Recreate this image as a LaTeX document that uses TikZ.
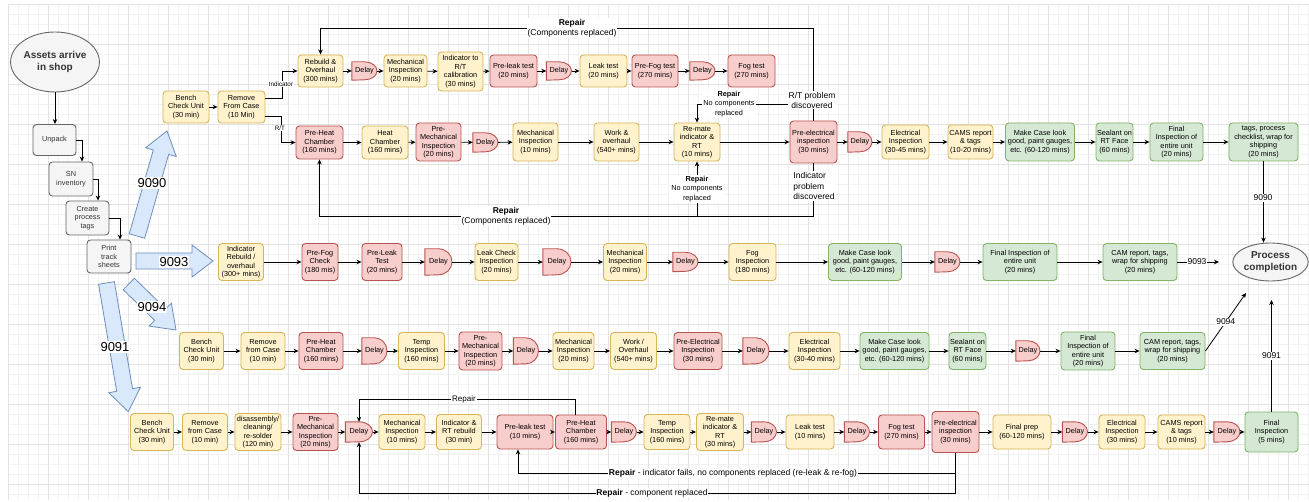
\documentclass[tikz,border=0pt]{standalone}
\usepackage{fontspec}
\setmainfont{Liberation Sans}
\usetikzlibrary{arrows.meta,calc,shapes.geometric}
\definecolor{yF}{HTML}{FFF2CC}\definecolor{yD}{HTML}{D6B656}
\definecolor{rF}{HTML}{F8CECC}\definecolor{rD}{HTML}{B85450}
\definecolor{gF}{HTML}{D5E8D4}\definecolor{gD}{HTML}{82B366}
\definecolor{kF}{HTML}{F5F5F5}\definecolor{kD}{HTML}{666666}\definecolor{kT}{HTML}{333333}
\definecolor{bF}{HTML}{DAE8FC}\definecolor{bD}{HTML}{6C8EBF}
\definecolor{gridm}{HTML}{F2F2F2}\definecolor{gridM}{HTML}{E3E3E3}
\newcommand{\fs}{\fontsize{7.3}{8.5}\selectfont}
\newcommand{\fl}{\fontsize{8.5}{10}\selectfont}
\tikzset{
  box/.style={rectangle, rounded corners=3.5pt, line width=0.9pt, align=center, inner sep=0pt, font=\fs},
  ybox/.style={box, fill=yF, draw=yD},
  rbox/.style={box, fill=rF, draw=rD},
  gbox/.style={box, fill=gF, draw=gD},
  kbox/.style={box, fill=kF, draw=kD, text=kT},
  arr/.style={line width=0.8pt, -{Stealth[length=5pt,width=4.5pt]}},
  lab/.style={fill=white, inner sep=1pt, align=center, font=\fl},
  slab/.style={fill=white, inner sep=1pt, align=center, font=\fontsize{7.3}{9.8}\selectfont},
  bluearrow/.style={fill=bF, draw=bD, line width=0.8pt, line join=miter},
  big/.style={fill=white, inner sep=1pt, font=\fontsize{13}{15}\selectfont},
}
\newcommand{\bx}[7]{\node[#1, minimum width=#5pt, minimum height=#6pt] (#2) at (#3,#4) {#7};}
\newcommand{\dly}[5]{\node[minimum width=#4pt, minimum height=#5pt, inner sep=0pt] (#1) at (#2,#3) {};
  \draw[fill=rF, draw=rD, line width=0.9pt] (#1.north west) -- (#1.north) arc[start angle=90, end angle=-90, x radius=#4*0.5pt, y radius=#5*0.5pt] -- (#1.south west) -- cycle;
  \node[font=\fs] at (#1.center) {Delay};}
\begin{document}
\begin{tikzpicture}[x=1pt,y=-1pt]
\useasboundingbox (0,0) rectangle (1309,502);
\fill[white] (0,0) rectangle (1309,502);
% grid
\foreach \g in {8,18,...,1308} \draw[gridm, line width=0.5pt] (\g,4) -- (\g,500);
\foreach \g in {4,14,...,500} \draw[gridm, line width=0.5pt] (8,\g) -- (1309,\g);
\foreach \g in {8,48,...,1308} \draw[gridM, line width=0.5pt] (\g,4) -- (\g,500);
\foreach \g in {4,44,...,500} \draw[gridM, line width=0.5pt] (8,\g) -- (1309,\g);

% start column
\node[ellipse, draw=kD, fill=kF, line width=0.9pt, minimum width=80pt, minimum height=60pt, inner sep=0pt, align=center, text=kT, font=\bfseries\fontsize{10}{12.5}\selectfont] (AS) at (55,62) {Assets arrive\\in shop};
\bx{kbox}{UP}{54.5}{140}{43}{31}{Unpack}
\bx{kbox}{SN}{71}{179}{44}{34}{SN\\inventory}
\bx{kbox}{CP}{87.5}{218}{43}{34}{Create\\process\\tags}
\bx{kbox}{PT}{109}{256.5}{44}{33}{Print\\track\\sheets}
\draw[arr] (AS.south) -- (AS.south |- UP.north);
\draw[arr] (UP.east) -| ($(SN.north)+(11,0)$);
\draw[arr] (SN.east) -| ($(CP.north)+(10.5,0)$);
\draw[arr] (CP.east) -| ($(PT.north)+(11,0)$);

% blue arrows
\draw[bluearrow] (129.3,233.8) -- (153.3,149.95) -- (145.6,147.75) -- (167,131) -- (176.3,156.55) -- (168.65,154.35) -- (144.7,238.2) -- cycle;
\node[big] (L90) at (152,183) {9090};
\draw[bluearrow] (136,253) -- (192,253) -- (192,245) -- (213,261) -- (192,277) -- (192,269) -- (136,269) -- cycle;
\node[big] (L93) at (174,262) {9093};
\draw[bluearrow] (123.2,289.7) -- (154.7,320.4) -- (149.1,326.1) -- (176,330) -- (171.4,303.2) -- (165.8,308.9) -- (134.4,278.3) -- cycle;
\node[big] (L94) at (152,307) {9094};
\draw[bluearrow] (98.6,284.3) -- (116.7,391.3) -- (108.8,392.7) -- (128.3,411.7) -- (140.4,387.3) -- (132.5,388.7) -- (114.4,281.7) -- cycle;
\node[big] (L91) at (115,347) {9091};

% ===== 9090 =====
\bx{ybox}{BC}{186}{107}{46}{32}{Bench\\Check Unit\\(30 min)}
\bx{ybox}{RC}{241.5}{107}{47}{32}{Remove\\From Case\\(10 Min)}
\draw[arr] (BC) -- (RC);
% row 1
\bx{ybox}{T1}{320.5}{71}{45}{32}{Rebuild \&\\Overhaul\\(300 mins)}
\dly{T2}{364.5}{71}{25}{18}
\bx{ybox}{T3}{405.5}{71}{43}{32}{Mechanical\\Inspection\\(20 mins)}
\bx{ybox}{T4}{460.5}{71.5}{45}{39}{Indicator to\\R/T\\calibration\\(30 mins)}
\bx{rbox}{T5}{513.5}{71}{47}{32}{Pre-leak test\\(20 mins)}
\dly{T6}{559}{71}{25}{18}
\bx{ybox}{T7}{603.5}{71}{47}{32}{Leak test\\(20 mins)}
\bx{rbox}{T8}{655}{71}{46}{32}{Pre-Fog test\\(270 mins)}
\dly{T9}{702.5}{71}{25}{18}
\bx{rbox}{T10}{751.5}{71}{47}{32}{Fog test\\(270 mins)}
\foreach \a/\b in {T1/T2,T2/T3,T3/T4,T4/T5,T5/T6,T6/T7,T7/T8,T8/T9,T9/T10} \draw[arr] (\a) -- (\b);
% row 2
\bx{rbox}{R1}{319.5}{142.5}{47}{33}{Pre-Heat\\Chamber\\(160 mins)}
\bx{ybox}{R2}{385}{142.5}{46}{33}{Heat\\Chamber\\(160 mins)}
\bx{rbox}{R3}{438.5}{142}{45}{38}{Pre-\\Mechanical\\Inspection\\(20 mins)}
\dly{R4}{485.5}{142.5}{25}{19}
\bx{ybox}{R5}{535.5}{142}{45}{38}{Mechanical\\Inspection\\(10 mins)}
\bx{ybox}{R6}{616.5}{142}{45}{38}{Work \&\\overhaul\\(540+ mins)}
\bx{ybox}{R7}{697}{142}{46}{38}{Re-mate\\indicator \&\\RT\\(10 mins)}
\bx{rbox}{R8}{813.5}{142}{47}{42}{Pre-electrical\\inspection\\(30 mins)}
\dly{R9}{860}{142}{24}{20}
\bx{ybox}{R10}{905.5}{142}{47}{34}{Electrical\\Inspection\\(30-45 mins)}
\bx{ybox}{R11}{970.5}{142}{45}{34}{CAMS report\\\& tags\\(10-20 mins)}
\bx{gbox}{R12}{1040}{142}{69}{38}{Make Case look\\good, paint gauges,\\etc. (60-120 mins)}
\bx{gbox}{R13}{1114.5}{142}{37}{38}{Sealant on\\RT Face\\(60 mins)}
\bx{gbox}{R14}{1176.5}{142}{53}{38}{Final\\Inspection of\\entire unit\\(20 mins)}
\bx{gbox}{R15}{1263.5}{142}{69}{38}{tags, process\\checklist, wrap for\\shipping\\(20 mins)}
\foreach \a/\b in {R1/R2,R2/R3,R3/R4,R4/R5,R5/R6,R6/R7,R7/R8,R8/R9,R9/R10,R10/R11,R11/R12,R12/R13,R13/R14,R14/R15} \draw[arr] (\a) -- (\b);
% branches from Remove from case
\draw[arr] (RC.east |- 0,98) -- (282,98) |- (T1.west);
\node[fill=white, inner sep=0.5pt, font=\fontsize{6.3}{7}\selectfont] at (281,84) {Indicator};
\draw[arr] (RC.east |- 0,116) -- (281,116) |- (R1.west);
\node[fill=white, inner sep=0.5pt, font=\fontsize{6.3}{7}\selectfont] at (280,128) {R/T};
% loops
\draw[arr] (R8.north) -- (R8.north |- 0,28) -| (T1.north);
\node[lab] at (572,28) {\textbf{Repair}\\(Components replaced)};
\draw[arr] (R8.north) -- (R8.north |- 0,104) -| (R7.north);
\node[slab] at (729,104) {\textbf{Repair}\\No components\\replaced};
\node[lab] at (812,100) {R/T problem\\discovered};
\draw[arr] (R8.south) -- (R8.south |- 0,216) -| (R1.south);
\draw[arr] (R7.south |- 0,216) -- (R7.south);
\node[lab, align=left, font=\fontsize{8.5}{10.5}\selectfont] at (814,186) {Indicator\\problem\\discovered};
\node[lab] at (506,216) {\textbf{Repair}\\(Components replaced)};
\node[slab] at (697,189) {\textbf{Repair}\\No components\\replaced};

% ===== completion =====
\node[ellipse, draw=kD, fill=kF, line width=0.9pt, minimum width=75pt, minimum height=38pt, inner sep=0pt, align=center, text=kT, font=\bfseries\fontsize{10}{12}\selectfont] (PC) at (1270.5,262) {Process\\completion};
\draw[arr] (R15.south) -- (R15.south |- PC.north);
\node[lab] at (1263,198) {9090};

% ===== 9093 =====
\bx{ybox}{A1}{241}{262}{45}{37}{Indicator\\Rebuild /\\overhaul\\(300+ mins)}
\bx{rbox}{A2}{320}{262}{36}{37}{Pre-Fog\\Check\\(180 mis)}
\bx{rbox}{A3}{382}{262}{40}{37}{Pre-Leak\\Test\\(20 mins)}
\dly{A4}{438.5}{262}{27}{26}
\bx{ybox}{A5}{496.5}{262}{43}{37}{Leak Check\\Inspection\\(20 mins)}
\dly{A6}{557}{262}{28}{26}
\bx{ybox}{A7}{625}{262}{43}{37}{Mechanical\\Inspection\\(20 mins)}
\dly{A8}{685.5}{262}{25}{19}
\bx{ybox}{A9}{752.5}{262}{47}{37}{Fog\\Inspection\\(180 mins)}
\bx{gbox}{A10}{865}{262}{73}{37}{Make Case look\\good, paint gauges,\\etc. (60-120 mins)}
\dly{A11}{947.5}{262}{25}{20}
\bx{gbox}{A12}{1020}{262}{74}{37}{Final Inspection of\\entire unit\\(20 mins)}
\bx{gbox}{A13}{1140}{262}{74}{37}{CAM report, tags,\\wrap for shipping\\(20 mins)}
\foreach \a/\b in {A1/A2,A2/A3,A3/A4,A4/A5,A5/A6,A6/A7,A7/A8,A8/A9,A9/A10,A10/A11,A11/A12,A12/A13} \draw[arr] (\a) -- (\b);
\coordinate (e93) at (1219,262);
\draw[arr] (A13.east) -- (e93);
\node[fill=white, inner sep=0.8pt, font=\fl] at (1197,262) {9093};

% ===== 9094 =====
\bx{ybox}{B1}{201.5}{351}{44}{37}{Bench\\Check Unit\\(30 min)}
\bx{ybox}{B2}{263}{351}{44}{37}{Remove\\from Case\\(10 min)}
\bx{rbox}{B3}{321}{351}{44}{37}{Pre-Heat\\Chamber\\(160 mins)}
\dly{B4}{374.5}{351}{25}{26}
\bx{ybox}{B5}{421.5}{351}{46}{37}{Temp\\Inspection\\(160 mins)}
\bx{rbox}{B6}{480.5}{351}{43}{38}{Pre-\\Mechanical\\Inspection\\(20 mins)}
\dly{B7}{526}{351}{25}{26}
\bx{ybox}{B8}{573.5}{351}{41}{37}{Mechanical\\Inspection\\(20 mins)}
\bx{ybox}{B9}{633.5}{351}{46}{37}{Work /\\Overhaul\\(540+ mins)}
\bx{rbox}{B10}{698}{351}{48}{37}{Pre-Electrical\\Inspection\\(30 mins)}
\dly{B11}{756}{351}{26}{26}
\bx{ybox}{B12}{814.5}{351}{51}{37}{Electrical\\Inspection\\(30-40 mins)}
\bx{gbox}{B13}{894.5}{351}{69}{37}{Make Case look\\good, paint gauges,\\etc. (60-120 mins)}
\bx{gbox}{B14}{967.5}{351}{37}{37}{Sealant on\\RT Face\\(60 mins)}
\dly{B15}{1028}{351}{24}{20}
\bx{gbox}{B16}{1088}{351}{54}{38}{Final\\Inspection of\\entire unit\\(20 mins)}
\bx{gbox}{B17}{1172.5}{351}{65}{37}{CAM report, tags,\\wrap for shipping\\(20 mins)}
\foreach \a/\b in {B1/B2,B2/B3,B3/B4,B4/B5,B5/B6,B6/B7,B7/B8,B8/B9,B9/B10,B10/B11,B11/B12,B12/B13,B13/B14,B14/B15,B15/B16,B16/B17} \draw[arr] (\a) -- (\b);
\coordinate (e94) at (1246,293);
\draw[arr] (B17.east) -- (e94) node[midway, fill=white, inner sep=0.8pt, font=\fl] {9094};

% ===== 9091 =====
\bx{ybox}{C1}{152}{432}{43}{37}{Bench\\Check Unit\\(30 min)}
\bx{ybox}{C2}{205}{432}{45}{37}{Remove\\from Case\\(10 min)}
\bx{ybox}{C3}{258}{432}{46}{37}{disassembly/\\cleaning/\\re-solder\\(120 min)}
\bx{rbox}{C4}{315.5}{432}{45}{37}{Pre-\\Mechanical\\Inspection\\(20 mins)}
\dly{C5}{359}{432}{27}{20}
\bx{ybox}{C6}{402}{432}{46}{35}{Mechanical\\Inspection\\(10 mins)}
\bx{ybox}{C7}{459}{432}{45}{35}{Indicator \&\\RT rebuild\\(30 min)}
\bx{rbox}{C8}{525}{432}{56}{34}{Pre-leak test\\(10 mins)}
\bx{rbox}{C9}{581}{432}{51}{34}{Pre-Heat\\Chamber\\(160 mins)}
\dly{C10}{624}{432}{25}{20}
\bx{ybox}{C11}{667}{432}{46}{35}{Temp\\Inspection\\(160 mins)}
\bx{ybox}{C12}{720}{432}{47}{37}{Re-mate\\indicator \&\\RT\\(30 mins)}
\dly{C13}{764}{432}{25}{20}
\bx{ybox}{C14}{810}{432}{48}{34}{Leak test\\(10 mins)}
\dly{C15}{857}{432}{25}{20}
\bx{rbox}{C16}{901.5}{432}{46}{34}{Fog test\\(270 mins)}
\bx{rbox}{C17}{955.5}{432}{47}{41}{Pre-electrical\\inspection\\(30 mins)}
\bx{ybox}{C18}{1022}{432}{58}{34}{Final prep\\(60-120 mins)}
\dly{C19}{1075}{432}{25}{20}
\bx{ybox}{C20}{1122}{432}{46}{34}{Electrical\\Inspection\\(30 mins)}
\bx{ybox}{C21}{1181.5}{432}{47}{34}{CAMS report\\\& tags\\(10 mins)}
\dly{C22}{1227}{432}{26}{20}
\bx{gbox}{C23}{1271.5}{432}{53}{40}{Final\\Inspection\\(5 mins)}
\foreach \a/\b in {C1/C2,C2/C3,C3/C4,C4/C5,C5/C6,C6/C7,C7/C8,C8/C9,C9/C10,C10/C11,C11/C12,C12/C13,C13/C14,C14/C15,C15/C16,C16/C17,C17/C18,C18/C19,C19/C20,C20/C21,C21/C22,C22/C23} \draw[arr] (\a) -- (\b);
\coordinate (e91) at (1271.5,300);
\draw[arr] (C23.north) -- (e91) node[midway, fill=white, inner sep=0.8pt, font=\fl] {9091};
\coordinate (c9n) at ($(C9.north)+(-6,0)$);
\draw[arr] (c9n) -- (c9n |- 0,399) -| (C5.north);
\node[fill=white, inner sep=0.8pt, font=\fontsize{8}{9}\selectfont] at (464,399) {Repair};
\coordinate (c8s) at ($(C8.south)+(-7,0)$);
\draw[arr] (C17.south) -- (C17.south |- 0,473) -| (c8s);
\node[fill=white, inner sep=0.8pt, font=\fl] at (733,473) {\textbf{Repair} - indicator fails, no components replaced (re-leak \& re-fog)};
\draw[arr] (C17.south) -- (C17.south |- 0,493) -| (C5.south);
\node[fill=white, inner sep=0.8pt, font=\fl] at (652,493) {\textbf{Repair} - component replaced};
\end{tikzpicture}
\end{document}
